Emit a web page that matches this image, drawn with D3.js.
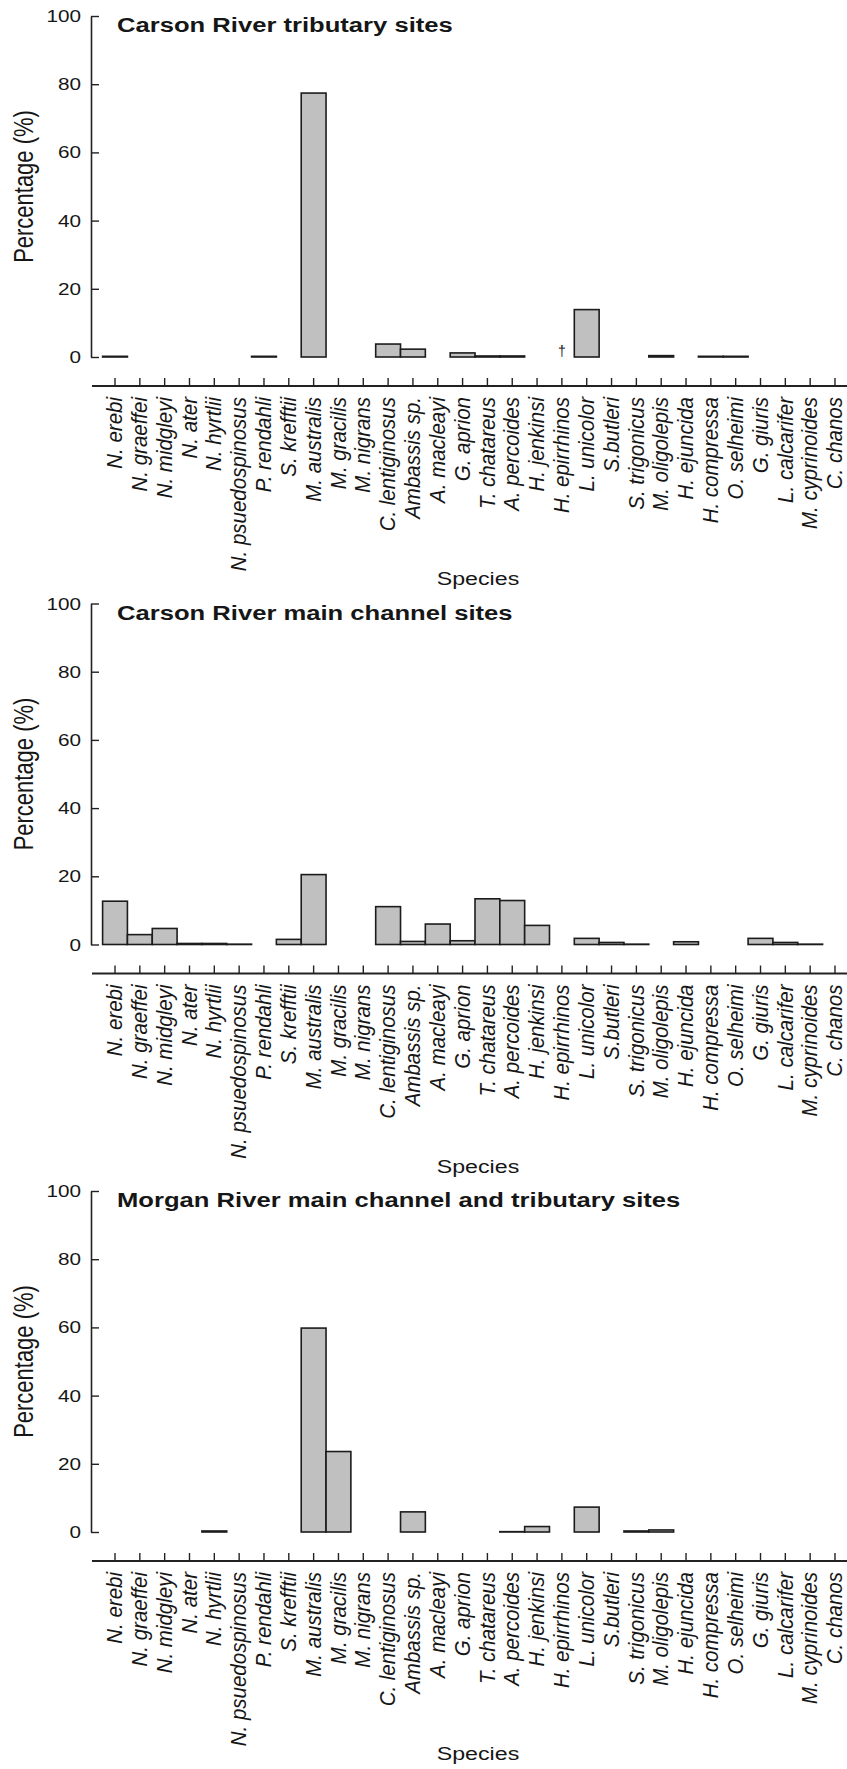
<!DOCTYPE html>
<html>
<head>
<meta charset="utf-8">
<script src="https://cdn.jsdelivr.net/npm/d3@7"></script>
<style>
  body { margin: 0; background: #fff; }
  text { font-family: "Liberation Sans", Arial, sans-serif; fill: #161616; }
</style>
</head>
<body>
<div id="chart"></div>
<script>
// Species on the x axis (same order in every panel)
const species = ["N. erebi", "N. graeffei", "N. midgleyi", "N. ater", "N. hyrtlii",
    "N. psuedospinosus", "P. rendahli", "S. krefftii", "M. australis", "M. gracilis",
    "M. nigrans", "C. lentiginosus", "Ambassis sp.", "A. macleayi", "G. aprion",
    "T. chatareus", "A. percoides", "H. jenkinsi", "H. epirrhinos", "L. unicolor",
    "S.butleri", "S. trigonicus", "M. oligolepis", "H. ejuncida", "H. compressa",
    "O. selheimi", "G. giuris", "L. calcarifer", "M. cyprinoides", "C. chanos"];

const carsonTribValues = [0.2, null, null, null, null, null, 0.2, null, 77.4, null,
    null, 3.8, 2.3, null, 1.2, 0.3, 0.3, null, null, 13.9,
    null, null, 0.4, null, 0.2, 0.2, null, null, null, null];
const carsonMainValues = [12.7, 2.9, 4.7, 0.3, 0.3, 0.1, null, 1.5, 20.5, null,
    null, 11.1, 0.9, 6.0, 1.1, 13.4, 12.9, 5.6, null, 1.8,
    0.6, 0.1, null, 0.8, null, null, 1.8, 0.6, 0.1, null];
const morganValues = [null, null, null, null, 0.3, null, null, null, 59.8, 23.6,
    null, null, 5.9, null, null, null, 0.1, 1.6, null, 7.3,
    null, 0.3, 0.6, null, null, null, null, null, null, null];

// species flagged with a dagger in the first panel
const carsonTribDagger = ["H. epirrhinos"];

const panelTitles = ["Carson River tributary sites",
    "Carson River main channel sites",
    "Morgan River main channel and tributary sites"];
const yTicks = [0, 20, 40, 60, 80, 100];

const width = 847;
const height = 1769;
const SX = 1.22;           // the original figure is stretched sideways
const panelStep = 587.5;

const svg = d3.select("#chart")
    .append("svg")
    .attr("width", width)
    .attr("height", height);

const x = d3.scaleBand()
    .domain(species)
    .range([102.6, 847.4])
    .padding(0);

function stretched(g, tx, ty, str, extra, sx) {
    return g.append("text")
        .attr("transform", `translate(${tx},${ty}) scale(${sx || SX},1)` + (extra || ""))
        .text(str);
}

const panels = [
    { title: panelTitles[0], values: carsonTribValues, dagger: carsonTribDagger },
    { title: panelTitles[1], values: carsonMainValues, dagger: [] },
    { title: panelTitles[2], values: morganValues, dagger: [] }
];

panels.forEach((p, i) => {
    const off = i * panelStep;
    const g = svg.append("g");

    const y = d3.scaleLinear()
        .domain([0, 100])
        .range([357 + off, 16 + off]);

    // y axis, ticks pointing into the plot
    const yAxis = g.append("g")
        .attr("transform", "translate(91,0)")
        .call(d3.axisLeft(y).tickValues(yTicks).tickSize(-8).tickSizeOuter(0).tickFormat(""));
    yAxis.select(".domain").attr("stroke", "#222").attr("stroke-width", 1.6);
    yAxis.selectAll(".tick line").attr("stroke", "#222").attr("stroke-width", 1.4);

    yTicks.forEach(t => {
        stretched(g, 81, y(t) + 6, t)
            .attr("text-anchor", "end")
            .style("font-size", "17px");
    });

    // y axis title
    stretched(g, 33, (y(0) + y(100)) / 2, "Percentage (%)", " rotate(-90)")
        .attr("text-anchor", "middle")
        .style("font-size", "22px");

    // panel title
    stretched(g, 117, y(100) + 16, p.title)
        .style("font-size", "21px")
        .style("font-weight", "bold");

    // bars
    const rows = species.map((s, k) => ({ name: s, v: p.values[k] }))
        .filter(d => d.v !== null);
    g.selectAll("rect")
        .data(rows)
        .enter()
        .append("rect")
        .attr("x", d => x(d.name))
        .attr("y", d => y(d.v))
        .attr("width", x.bandwidth())
        .attr("height", d => y(0) - y(d.v))
        .attr("fill", "#c0c0c0")
        .attr("stroke", "#1c1c1c")
        .attr("stroke-width", 1.6);

    p.dagger.forEach(s => {
        g.append("text")
            .attr("x", x(s) + x.bandwidth() / 2)
            .attr("y", y(0) - 1)
            .attr("text-anchor", "middle")
            .style("font-size", "14px")
            .text("\u2020");
    });

    // separate x axis below the plot, ticks pointing up
    const axisY = y(0) + 29;
    g.append("line")
        .attr("x1", 92).attr("x2", width)
        .attr("y1", axisY).attr("y2", axisY)
        .attr("stroke", "#222")
        .attr("stroke-width", 1.8);
    const xAxis = g.append("g")
        .attr("transform", `translate(0,${axisY})`)
        .call(d3.axisTop(x).tickSize(8).tickSizeOuter(0).tickFormat(""));
    xAxis.select(".domain").remove();
    xAxis.selectAll(".tick line").attr("stroke", "#222").attr("stroke-width", 1.4);

    species.forEach(s => {
        stretched(g, x(s) + x.bandwidth() / 2 - 0.5, axisY + 11, s, " rotate(-90)", 1.1)
            .attr("text-anchor", "end")
            .attr("dy", "0.34em")
            .style("font-size", "20.5px")
            .style("font-style", "italic");
    });

    // x axis title
    stretched(g, 478, y(0) + 228, "Species")
        .attr("text-anchor", "middle")
        .style("font-size", "19px");
});
</script>
</body>
</html>
